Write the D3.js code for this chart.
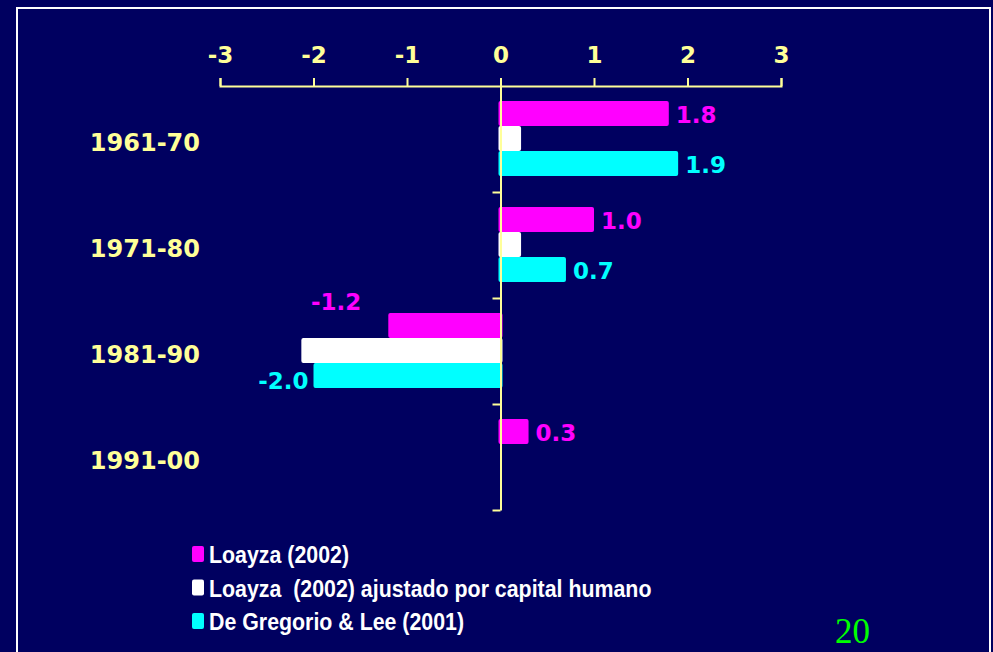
<!DOCTYPE html>
<html>
<head>
<meta charset="utf-8">
<script src="https://cdn.jsdelivr.net/npm/d3@7"></script>
<style>
  html, body { margin: 0; padding: 0; background: #000060; }
  svg { display: block; }
</style>
</head>
<body>
<div id="chart"></div>
<script>
// chart data
const periods = ["1961-70", "1971-80", "1981-90", "1991-00"];
const seriesNames = ["Loayza (2002)", "Loayza  (2002) ajustado por capital humano", "De Gregorio & Lee (2001)"];
const loayza = [1.8, 1.0, -1.2, 0.3];
const loayzaAjustado = [0.22, 0.22, -2.13, null];
const deGregorio = [1.9, 0.7, -2.0, null];
const xTicks = [-3, -2, -1, 0, 1, 2, 3];
const showLabel = [true, false, true]; // only magenta + cyan have value labels

const colors = ["#ff00ff", "#ffffff", "#00ffff"];
const axisColor = "#ffff99";

// plain hyphen for negatives, like the slide
const locale = d3.formatLocale({ decimal: ".", thousands: ",", grouping: [3], currency: ["", ""], minus: "-" });
const fmtVal = locale.format(".1f");
const fmtTick = locale.format("d");

const width = 993, height = 652;

const svg = d3.select("#chart")
  .append("svg")
  .attr("width", width)
  .attr("height", height);

// background + frame
svg.append("rect").attr("width", width).attr("height", height).attr("fill", "#000060");
svg.append("rect")
  .attr("x", 17).attr("y", 8)
  .attr("width", 973).attr("height", 660)
  .attr("fill", "none").attr("stroke", "#ffffff").attr("stroke-width", 2);

const x = d3.scaleLinear().domain([-3, 3]).range([220, 781]);
const y = d3.scaleBand().domain(periods).range([86, 510]).paddingInner(0);
const ySub = d3.scaleBand().domain([0, 1, 2]).range([15, 90]);

const allSeries = [loayza, loayzaAjustado, deGregorio];

// bars
const groups = svg.selectAll(".grp")
  .data(periods)
  .enter()
  .append("g")
  .attr("class", "grp")
  .attr("transform", d => `translate(0,${y(d)})`);

groups.each(function(p, i) {
  const g = d3.select(this);
  allSeries.forEach((vals, s) => {
    const v = vals[i];
    if (v == null) return;
    g.append("rect")
      .attr("x", Math.min(x(0), x(v)) - (v > 0 ? 2 : 0))
      .attr("y", ySub(s))
      .attr("width", Math.abs(x(v) - x(0)) + 2)
      .attr("height", ySub.bandwidth())
      .attr("rx", 2)
      .attr("fill", colors[s]);
  });
});

// value labels
groups.each(function(p, i) {
  const g = d3.select(this);
  allSeries.forEach((vals, s) => {
    const v = vals[i];
    if (v == null || !showLabel[s]) return;
    const cy = ySub(s) + ySub.bandwidth() / 2 + 1;
    const t = g.append("text")
      .attr("fill", colors[s])
      .attr("font-family", "DejaVu Sans, Verdana, sans-serif")
      .attr("font-weight", "bold")
      .attr("font-size", 23)
      .attr("dy", "0.36em")
      .text(fmtVal(v));
    if (v >= 0) {
      t.attr("x", x(v) + 7).attr("y", cy);
    } else {
      // a longer neighbouring bar would cover the label -> lift it above the bar
      const blocked = allSeries.some((o, k) => k === s + 1 && o[i] != null && o[i] < v);
      if (blocked) {
        t.attr("text-anchor", "end").attr("x", x(v) - 27).attr("y", ySub(s) - 11);
      } else {
        t.attr("text-anchor", "end").attr("x", x(v) - 5).attr("y", cy + 4);
      }
    }
  });
});

// top value axis
const xAxis = svg.append("g")
  .attr("transform", "translate(0,86)")
  .call(d3.axisTop(x).tickValues(xTicks).tickSize(8).tickPadding(15).tickFormat(fmtTick));
xAxis.select(".domain").attr("stroke", axisColor).attr("stroke-width", 2);
xAxis.selectAll(".tick line").attr("stroke", axisColor).attr("stroke-width", 2);
xAxis.selectAll(".tick text")
  .attr("fill", axisColor)
  .attr("font-family", "DejaVu Sans, Verdana, sans-serif")
  .attr("font-weight", "bold")
  .attr("font-size", 23);

// vertical category axis at zero
const yEdge = d3.scaleLinear().domain([0, periods.length]).range([86, 510]);
const yAxis = svg.append("g")
  .attr("transform", `translate(${x(0)},0)`)
  .call(d3.axisLeft(yEdge).tickValues(d3.range(1, periods.length + 1)).tickSize(8).tickSizeOuter(0).tickFormat(""));
yAxis.select(".domain").attr("stroke", axisColor).attr("stroke-width", 2);
yAxis.selectAll(".tick line").attr("stroke", axisColor).attr("stroke-width", 2);

// category labels
svg.selectAll(".cat")
  .data(periods)
  .enter()
  .append("text")
  .attr("class", "cat")
  .attr("x", 200)
  .attr("y", d => y(d) + y.bandwidth() / 2 + 3)
  .attr("dy", "0.36em")
  .attr("text-anchor", "end")
  .attr("fill", axisColor)
  .attr("font-family", "DejaVu Sans, Verdana, sans-serif")
  .attr("font-weight", "bold")
  .attr("font-size", 24)
  .text(d => d);

// legend
const legend = svg.selectAll(".leg")
  .data(seriesNames)
  .enter()
  .append("g")
  .attr("class", "leg")
  .attr("transform", (d, i) => `translate(192,${546 + i * 33.5})`);

legend.append("rect")
  .attr("width", 12).attr("height", 16).attr("rx", 2)
  .attr("fill", (d, i) => colors[i]);

legend.append("text")
  .attr("transform", "translate(17,17) scale(0.89,1)")
  .attr("fill", "#ffffff")
  .attr("font-family", "Liberation Sans, Arial, sans-serif")
  .attr("font-weight", "bold")
  .attr("font-size", 24)
  .style("white-space", "pre")
  .text(d => d);

// slide number
svg.append("text")
  .attr("x", 835).attr("y", 643)
  .attr("fill", "#00ff00")
  .attr("font-family", "Liberation Serif, Times New Roman, serif")
  .attr("font-size", 35)
  .text("20");
</script>
</body>
</html>
